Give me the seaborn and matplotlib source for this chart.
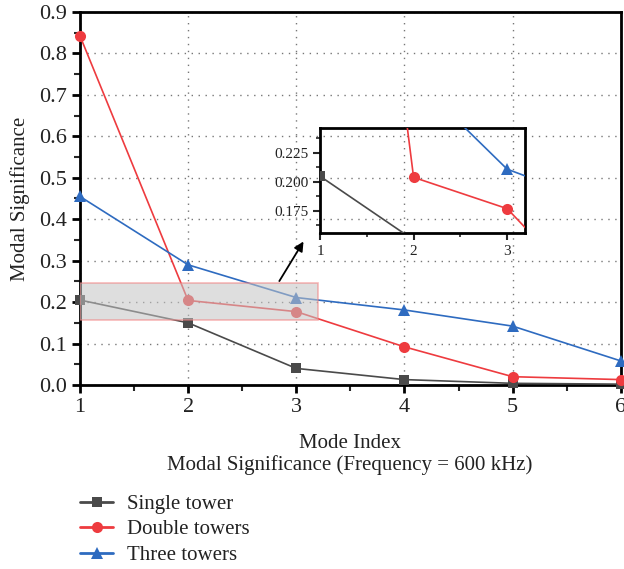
import matplotlib
matplotlib.use("Agg")
import matplotlib.pyplot as plt
import seaborn as sns
import pandas as pd
from matplotlib.patches import Rectangle
from matplotlib.ticker import MultipleLocator

mode_index = [1, 2, 3, 4, 5, 6]
single_tower = [0.205, 0.150, 0.040, 0.013, 0.004, 0.002]
double_towers = [0.843, 0.204, 0.177, 0.092, 0.020, 0.013]
three_towers = [0.455, 0.290, 0.211, 0.181, 0.142, 0.058]
series_names = ["Single tower", "Double towers", "Three towers"]
colors = ["#4a4a4a", "#ee3b3f", "#2e6bc0"]
markers = ["s", "o", "^"]
msizes = [7, 8, 9]

sns.set_theme(style="white")
plt.rcParams["font.family"] = ["Liberation Serif", "DejaVu Serif"]

df = pd.DataFrame({
    "Mode Index": mode_index * 3,
    "Modal Significance": single_tower + double_towers + three_towers,
    "Series": sum([[n] * len(mode_index) for n in series_names], []),
})

fig = plt.figure(figsize=(6.24, 5.69), dpi=100)
ax = fig.add_axes([0.128, 0.3234, 0.867, 0.6555])

def draw(axis, legend=False, clip=True):
    for name, c, m, ms in zip(series_names, colors, markers, msizes):
        sub = df[df["Series"] == name]
        sns.lineplot(data=sub, x="Mode Index", y="Modal Significance", ax=axis,
                     color=c, marker=m, markersize=ms, markeredgewidth=0,
                     linewidth=1.2, label=name if legend else None, legend=legend,
                     zorder=3, clip_on=clip)

draw(ax, legend=True, clip=False)
ax.set_xlim(1, 6)
ax.set_ylim(0, 0.9)
ax.xaxis.set_major_locator(MultipleLocator(1))
ax.xaxis.set_minor_locator(MultipleLocator(0.5))
ax.set_yticks([i / 10 for i in range(10)])
ax.set_yticklabels([f"{i/10:.1f}" for i in range(10)])
ax.yaxis.set_minor_locator(MultipleLocator(0.05))
ax.tick_params(which="major", direction="out", length=6, width=2, labelsize=16,
               bottom=True, left=True, colors="black", labelcolor="#222222")
ax.tick_params(which="minor", direction="out", length=4, width=1.5,
               bottom=True, left=True)
for s in ax.spines.values():
    s.set_linewidth(2)
    s.set_color("black")
ax.grid(True, which="major", linestyle=(0, (1, 4)), color="#777777", linewidth=1)
ax.set_xlabel("Mode Index", fontsize=15, color="#222222", labelpad=12)
ax.set_ylabel("Modal Significance", fontsize=15, color="#222222", labelpad=6)

# highlighted region
rect = Rectangle((1, 0.157), 2.2, 0.088, facecolor="#c4c4c4", alpha=0.55,
                 edgecolor="#f08080", linewidth=1.2, zorder=4)
ax.add_patch(rect)

# arrow
ax.annotate("", xy=(3.08, 0.352), xytext=(2.83, 0.245),
            arrowprops=dict(arrowstyle="-|>", color="black", lw=1.3,
                            mutation_scale=14), zorder=6)

handles, labels = ax.get_legend_handles_labels()
ax.legend_.remove()
leg = fig.legend(handles, labels, loc="upper left", bbox_to_anchor=(0.115, 0.146),
                 bbox_transform=fig.transFigure, frameon=False, fontsize=15,
                 handlelength=1.6, labelspacing=0.29, handletextpad=0.63,
                 borderaxespad=0, labelcolor="#222222")
for h in leg.legend_handles:
    h.set_linewidth(2)

fig.text(0.561, 1 - 465 / 569, "Modal Significance (Frequency = 600 kHz)",
         ha="center", va="center", fontsize=15, color="#222222")

# inset
axin = fig.add_axes([0.5128, 0.5905, 0.3285, 0.1845])
axin.patch.set_alpha(0)
draw(axin)
axin.set_xlim(1, 3.19)
axin.set_ylim(0.156, 0.2465)
axin.set_xlabel("")
axin.set_ylabel("")
axin.set_xticks([1, 2, 3])
axin.xaxis.set_minor_locator(MultipleLocator(0.5))
axin.set_yticks([0.175, 0.200, 0.225])
axin.set_yticklabels(["0.175", "0.200", "0.225"])
axin.yaxis.set_minor_locator(MultipleLocator(0.0125))
axin.tick_params(which="major", direction="out", length=5, width=1.5, labelsize=11,
                 bottom=True, left=True, labelcolor="#222222")
axin.tick_params(which="minor", direction="out", length=3, width=1.2,
                 bottom=True, left=True)
for s in axin.spines.values():
    s.set_linewidth(2)
    s.set_color("black")
axin.grid(False)

fig.savefig("out.png", dpi=100)
